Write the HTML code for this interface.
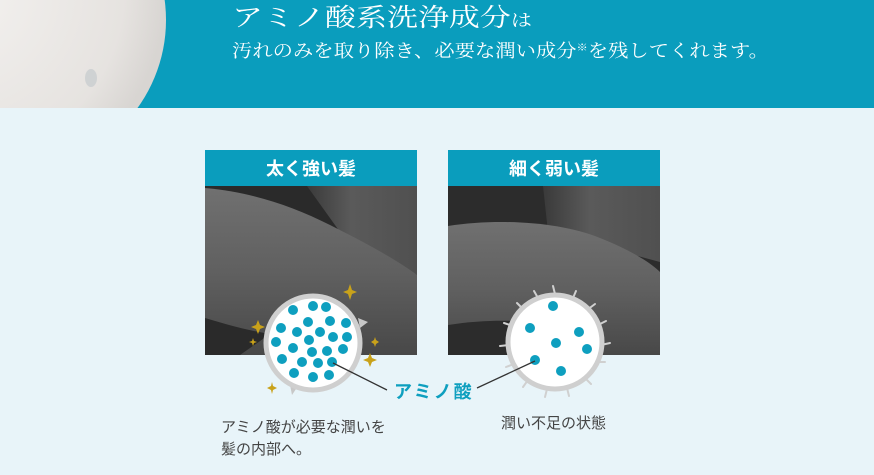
<!DOCTYPE html>
<html><head><meta charset="utf-8"><style>
html,body{margin:0;padding:0;}
body{width:874px;height:470px;overflow:hidden;background:#e8f4f9;font-family:"Liberation Sans","Noto Sans CJK JP",sans-serif;}
</style></head><body>
<svg width="874" height="470" viewBox="0 0 874 470" xmlns="http://www.w3.org/2000/svg">
<defs>
<radialGradient id="foam" cx="0.3" cy="0.4" r="0.7">
<stop offset="0" stop-color="#f4f2f0"/><stop offset="0.8" stop-color="#e6e3e0"/><stop offset="1" stop-color="#d8d5d2"/>
</radialGradient>
<linearGradient id="hair" x1="0" y1="0" x2="0" y2="1">
<stop offset="0" stop-color="#707070"/><stop offset="0.5" stop-color="#606060"/><stop offset="1" stop-color="#484848"/>
</linearGradient>
<linearGradient id="hair2" x1="0" y1="0" x2="1" y2="0">
<stop offset="0" stop-color="#3a3a3a"/><stop offset="0.4" stop-color="#5a5a5a"/><stop offset="1" stop-color="#505050"/>
</linearGradient>
<clipPath id="c1"><rect x="205" y="186" width="212" height="169"/></clipPath>
<clipPath id="c2"><rect x="448" y="186" width="212" height="169"/></clipPath>
<clipPath id="top"><rect x="0" y="0" width="874" height="108"/></clipPath>
</defs>
<rect x="0" y="0" width="874" height="108" fill="#0a9dbd"/>
<circle cx="16" cy="20" r="150" fill="url(#foam)" clip-path="url(#top)"/>
<ellipse cx="91" cy="78" rx="6" ry="9" fill="#c9cdd0" opacity="0.8"/>
<text x="232" y="26" fill="#fff" font-family="'Liberation Serif','Noto Serif CJK SC',serif" font-size="25" textLength="300" lengthAdjust="spacingAndGlyphs">アミノ酸系洗浄成分<tspan font-size="17">は</tspan></text>
<text x="232" y="57" fill="#fff" font-family="'Liberation Serif','Noto Serif CJK SC',serif" font-size="18" textLength="537" lengthAdjust="spacingAndGlyphs">汚れのみを取り除き、必要な潤い成分<tspan font-size="10" dy="-6">※</tspan><tspan dy="6">を残してくれます。</tspan></text>

<!-- panel 1 -->
<rect x="205" y="150" width="212" height="37" fill="#0a9dbd"/>
<text x="311" y="175" text-anchor="middle" fill="#fff" font-weight="bold" font-size="18">太く強い髪</text>
<g clip-path="url(#c1)">
<rect x="205" y="186" width="212" height="169" fill="#2a2a2a"/>
<path d="M307,186 L417,186 L417,275 L340,232 Z" fill="url(#hair2)"/>
<path d="M205,188 C250,192 290,205 330,225 C370,245 400,262 417,275 L417,355 L205,355 Z" fill="url(#hair)"/>
<path d="M205,318 C225,324 245,330 270,334 L240,355 L205,355 Z" fill="#2a2a2a"/>
</g>
<!-- panel 2 -->
<rect x="448" y="150" width="212" height="37" fill="#0a9dbd"/>
<text x="554" y="175" text-anchor="middle" fill="#fff" font-weight="bold" font-size="18">細く弱い髪</text>
<g clip-path="url(#c2)">
<rect x="448" y="186" width="212" height="169" fill="#2c2c2c"/>
<path d="M543,186 L660,186 L660,262 L548,232 Z" fill="url(#hair2)"/>
<path d="M448,226 C500,218 560,222 600,238 C630,250 650,262 660,272 L660,355 L448,355 Z" fill="url(#hair)"/>
<path d="M448,325 C480,320 510,320 530,322 L530,355 L448,355 Z" fill="#2c2c2c"/>
</g>

<!-- circle 1 -->
<g fill="#c8c8c8">
<polygon points="358,318 368,322 360,328"/>
<polygon points="290,385 292,395 298,386"/>
</g>
<circle cx="313" cy="343" r="47" fill="#fff" stroke="#cfcfcf" stroke-width="5"/>
<g fill="#0e9fbf">
<circle cx="293" cy="310" r="5"/><circle cx="313" cy="306" r="5"/><circle cx="326" cy="307" r="5"/>
<circle cx="308" cy="322" r="5"/><circle cx="330" cy="321" r="5"/><circle cx="346" cy="323" r="5"/>
<circle cx="281" cy="328" r="5"/><circle cx="297" cy="332" r="5"/><circle cx="320" cy="332" r="5"/>
<circle cx="333" cy="337" r="5"/><circle cx="347" cy="337" r="5"/><circle cx="276" cy="342" r="5"/>
<circle cx="309" cy="340" r="5"/><circle cx="293" cy="348" r="5"/><circle cx="312" cy="352" r="5"/>
<circle cx="327" cy="351" r="5"/><circle cx="343" cy="349" r="5"/><circle cx="282" cy="359" r="5"/>
<circle cx="302" cy="362" r="5"/><circle cx="318" cy="363" r="5"/><circle cx="332" cy="362" r="5"/>
<circle cx="294" cy="373" r="5"/><circle cx="313" cy="377" r="5"/><circle cx="329" cy="375" r="5"/>
</g>
<g fill="#c9a21a">
<path d="M350,284 L352,290 L357,292 L352,294 L350,300 L348,294 L343,292 L348,290 Z"/>
<path d="M258,320 L260,325 L265,327 L260,329 L258,334 L256,329 L251,327 L256,325 Z"/>
<path d="M253,338 L254,341 L257,342 L254,343 L253,346 L252,343 L249,342 L252,341 Z"/>
<path d="M375,337 L376,340 L379,342 L376,344 L375,347 L374,344 L371,342 L374,340 Z"/>
<path d="M370,353 L372,358 L377,360 L372,362 L370,367 L368,362 L363,360 L368,358 Z"/>
<path d="M272,382 L273,386 L277,388 L273,390 L272,394 L271,390 L267,388 L271,386 Z"/>
</g>
<!-- circle 2 spikes -->
<g stroke="#d0d0d0" stroke-width="2" stroke-linecap="round">
<line x1="555" y1="294" x2="553" y2="286"/><line x1="573" y1="298" x2="576" y2="291"/>
<line x1="587" y1="310" x2="595" y2="304"/><line x1="598" y1="325" x2="606" y2="321"/>
<line x1="601" y1="345" x2="610" y2="343"/><line x1="596" y1="362" x2="605" y2="362"/>
<line x1="585" y1="378" x2="591" y2="384"/><line x1="567" y1="388" x2="569" y2="396"/>
<line x1="547" y1="389" x2="545" y2="397"/><line x1="528" y1="380" x2="523" y2="387"/>
<line x1="514" y1="364" x2="506" y2="367"/><line x1="509" y1="345" x2="500" y2="346"/>
<line x1="513" y1="326" x2="504" y2="323"/><line x1="523" y1="309" x2="517" y2="303"/>
<line x1="538" y1="298" x2="534" y2="291"/>
</g>
<circle cx="555" cy="342" r="47" fill="#fff" stroke="#cfcfcf" stroke-width="5"/>
<g fill="#0e9fbf">
<circle cx="553" cy="306" r="5"/><circle cx="530" cy="328" r="5"/><circle cx="579" cy="332" r="5"/>
<circle cx="556" cy="343" r="5"/><circle cx="587" cy="349" r="5"/><circle cx="535" cy="360" r="5"/>
<circle cx="561" cy="371" r="5"/>
</g>
<line x1="333" y1="363" x2="387" y2="390" stroke="#333" stroke-width="1.3"/>
<line x1="477" y1="388" x2="535" y2="361" stroke="#333" stroke-width="1.3"/>
<text x="394" y="398" fill="#0e9fbf" font-weight="bold" font-size="18" letter-spacing="2">アミノ酸</text>
<text x="221" y="432" fill="#444" font-size="15">アミノ酸が必要な潤いを</text>
<text x="221" y="454" fill="#444" font-size="15">髪の内部へ。</text>
<text x="501" y="428" fill="#444" font-size="15">潤い不足の状態</text>
</svg>
</body></html>
